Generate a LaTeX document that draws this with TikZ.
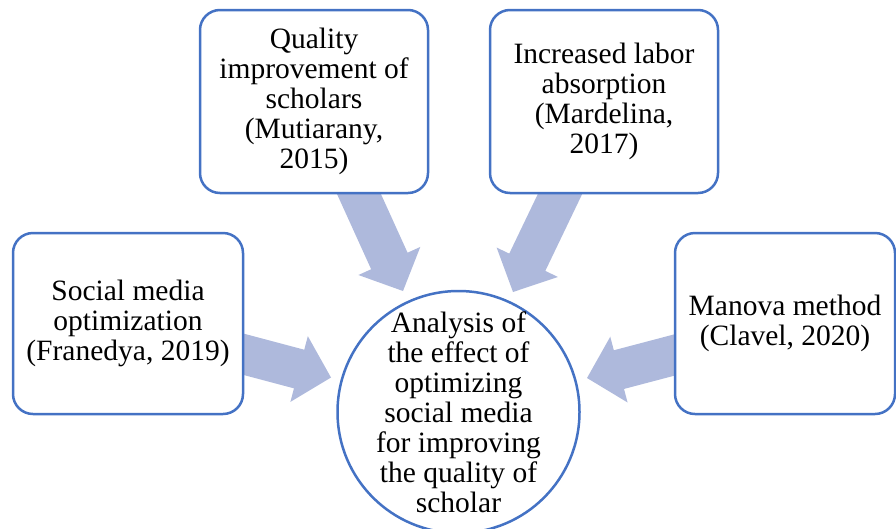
\documentclass[tikz,border=0pt]{standalone}
\usepackage{fontspec}
\setmainfont{Liberation Serif}
\usetikzlibrary{calc}
\definecolor{boxblue}{RGB}{68,114,196}
\definecolor{arrowfill}{RGB}{174,185,220}
\newcommand\blockarrow[2]{%
  \coordinate (#1-#2-h) at ($(#2)!33pt!(#1)$);
  \fill[arrowfill] ($(#1)!20pt!90:(#2)$) -- ($(#1-#2-h)!20pt!90:(#2)$) -- ($(#1-#2-h)!34pt!90:(#2)$) -- (#2) -- ($(#1-#2-h)!34pt!-90:(#2)$) -- ($(#1-#2-h)!20pt!-90:(#2)$) -- ($(#1)!20pt!-90:(#2)$) -- cycle;}
\begin{document}
\begin{tikzpicture}[x=1pt,y=-1pt,
  box/.style={draw=boxblue, line width=2.5pt, rounded corners=20pt, fill=white, align=center, inner sep=2pt, font=\fontsize{29.5}{30}\selectfont},
  circ/.style={draw=boxblue, line width=2.5pt, circle, fill=white, minimum size=242pt, inner sep=0pt},
  txt/.style={align=center, inner sep=0pt, font=\fontsize{29.5}{30}\selectfont}]
\useasboundingbox (0,0) rectangle (896,528);
% arrow tails and tips
\coordinate (tq) at (340.7,153.8); \coordinate (pq) at (403,291);
\coordinate (ti) at (579.5,153.4); \coordinate (pi) at (513,292);
\coordinate (ts) at (200,342.7);   \coordinate (ps) at (331,377.5);
\coordinate (tm) at (718,343.5);   \coordinate (pm) at (587,378);
\blockarrow{tq}{pq}
\blockarrow{ti}{pi}
\blockarrow{ts}{ps}
\blockarrow{tm}{pm}
% boxes
\node[box, minimum width=228pt, minimum height=183pt] (q) at (314,101.5) {Quality\\improvement of\\scholars\\(Mutiarany,\\2015)};
\node[box, minimum width=228pt, minimum height=183pt] (i) at (604,101.5) {Increased labor\\absorption\\(Mardelina,\\2017)};
\node[box, minimum width=230pt, minimum height=181pt] (s) at (128,323.5) {Social media\\optimization\\(Franedya, 2019)};
\node[box, minimum width=220pt, minimum height=181pt] (m) at (785,323.5) {Manova method\\(Clavel, 2020)};
% circle
\node[circ] (c) at (458.5,412) {};
\node[txt] (ct) at (c.center) {Analysis of\\the effect of\\optimizing\\social media\\for improving\\the quality of\\scholar};
\end{tikzpicture}
\end{document}
